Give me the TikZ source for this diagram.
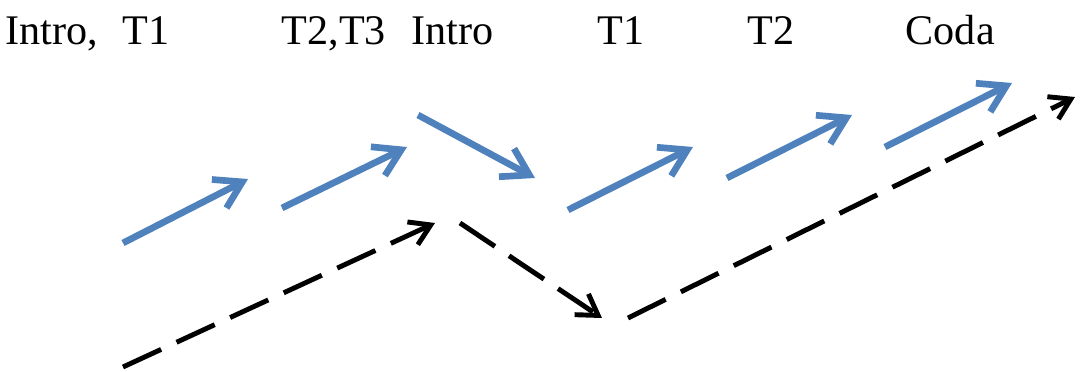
\documentclass[tikz,border=0pt]{standalone}
\usepackage{fontspec}
\setmainfont{Liberation Serif}
\usetikzlibrary{arrows.meta}

\definecolor{flowblue}{RGB}{79,129,189}
\tikzset{
	flow/.style={flowblue, line width=1.9pt, -{Straight Barb[length=2.6mm,width=3.2mm]}},
	route/.style={black, line width=1.4pt, dash pattern=on 4.2mm off 1.7mm, -{Straight Barb[length=2mm,width=2.5mm]}},
	part/.style={anchor=base west, inner sep=0pt, font=\fontsize{12}{14}\selectfont}
}

\begin{document}
\begin{tikzpicture}[x=0.1mm, y=-0.1mm]
	\useasboundingbox (0,0) rectangle (1080,372);
	% section names
	\node[part] (introA) at (5,45)   {Intro,};
	\node[part] (tA)     at (122,45) {T1};
	\node[part] (tBC)    at (281,45) {T2,T3};
	\node[part] (introB) at (411,45) {Intro};
	\node[part] (tB)     at (597,45) {T1};
	\node[part] (tC)     at (747,45) {T2};
	\node[part] (coda)   at (905,45) {Coda};
	% blue steps
	\coordinate (s1) at (123,243); \coordinate (e1) at (248,179);
	\coordinate (s2) at (282,208); \coordinate (e2) at (407,147);
	\coordinate (s3) at (418,115); \coordinate (e3) at (535,178);
	\coordinate (s4) at (568,210); \coordinate (e4) at (693,147);
	\coordinate (s5) at (727,178); \coordinate (e5) at (852,115);
	\coordinate (s6) at (885,147); \coordinate (e6) at (1012,83);
	\draw[flow] (s1) -- (e1);
	\draw[flow] (s2) -- (e2);
	\draw[flow] (s3) -- (e3);
	\draw[flow] (s4) -- (e4);
	\draw[flow] (s5) -- (e5);
	\draw[flow] (s6) -- (e6);
	% dashed overall shape
	\coordinate (r1) at (123,367); \coordinate (q1) at (435,223);
	\coordinate (r2) at (460,223); \coordinate (q2) at (602,318);
	\coordinate (r3) at (628,318); \coordinate (q3) at (1075,97);
	\draw[route] (r1) -- (q1);
	\draw[route] (r2) -- (q2);
	\draw[route] (r3) -- (q3);
\end{tikzpicture}
\end{document}
